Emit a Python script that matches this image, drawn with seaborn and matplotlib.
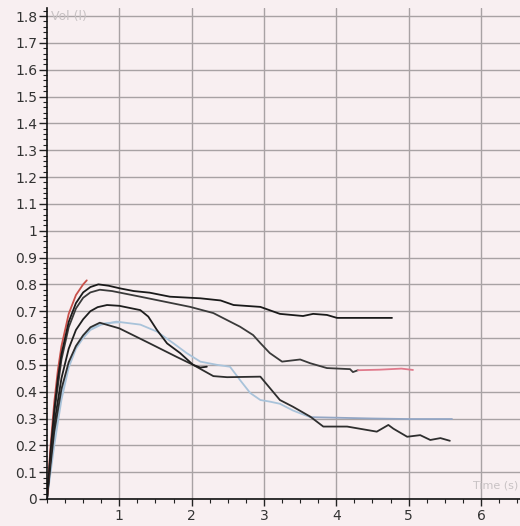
import numpy as np
import pandas as pd
import matplotlib
matplotlib.use("Agg")
import matplotlib.pyplot as plt
import seaborn as sns
from matplotlib.ticker import MultipleLocator, FixedLocator

sns.set_theme(style="white")
plt.rcParams['font.family'] = ['DejaVu Sans']

# ---- data (time in s, volume in l) ----
red_t = [0, 0.05, 0.1, 0.15, 0.2, 0.3, 0.4, 0.5, 0.55]
red_v = [0, 0.2, 0.36, 0.48, 0.57, 0.69, 0.76, 0.80, 0.815]

a_t = [0, 0.05, 0.1, 0.15, 0.2, 0.3, 0.4, 0.5, 0.6, 0.71, 0.85, 1.01, 1.2, 1.42, 1.70,
       2.12, 2.4, 2.58, 2.95, 3.22, 3.54, 3.68, 3.87, 4.01, 4.77]
a_v = [0, 0.18, 0.33, 0.45, 0.54, 0.66, 0.73, 0.77, 0.79, 0.80, 0.795, 0.785, 0.775, 0.769, 0.754,
       0.748, 0.74, 0.723, 0.716, 0.69, 0.682, 0.69, 0.686, 0.675, 0.675]

b_t = [0, 0.05, 0.1, 0.2, 0.3, 0.4, 0.5, 0.6, 0.73, 0.9, 1.29, 1.98, 2.30, 2.67, 2.85, 2.95,
       3.08, 3.25, 3.50, 3.64, 3.87, 4.19, 4.23, 4.3]
b_v = [0, 0.17, 0.32, 0.52, 0.64, 0.71, 0.75, 0.77, 0.78, 0.775, 0.754, 0.716, 0.693, 0.642, 0.611, 0.581,
       0.544, 0.512, 0.52, 0.506, 0.488, 0.484, 0.473, 0.48]

b_tail_t = [4.3, 4.6, 4.9, 5.06]
b_tail_v = [0.48, 0.482, 0.486, 0.481]

c_t = [0, 0.05, 0.1, 0.2, 0.3, 0.4, 0.5, 0.6, 0.7, 0.83, 1.0, 1.29, 1.40, 1.52, 1.66, 1.84,
       2.02, 2.12, 2.21]
c_v = [0, 0.15, 0.28, 0.45, 0.56, 0.63, 0.67, 0.70, 0.715, 0.723, 0.72, 0.704, 0.68, 0.63, 0.58, 0.544,
       0.50, 0.49, 0.493]

d_t = [0, 0.05, 0.1, 0.2, 0.3, 0.4, 0.5, 0.6, 0.73, 1.0, 1.42, 1.79, 2.02, 2.30, 2.49, 2.95,
       3.22, 3.40, 3.64, 3.82, 4.15, 4.56, 4.72, 4.79, 4.98, 5.16, 5.30, 5.44, 5.57]
d_v = [0, 0.13, 0.25, 0.41, 0.51, 0.57, 0.61, 0.64, 0.657, 0.636, 0.58, 0.53, 0.50, 0.458, 0.454, 0.456,
       0.369, 0.344, 0.307, 0.27, 0.27, 0.251, 0.276, 0.262, 0.232, 0.238, 0.22, 0.227, 0.217]

e_t = [0, 0.05, 0.1, 0.2, 0.3, 0.4, 0.5, 0.6, 0.75, 0.96, 1.29, 1.52, 1.75, 1.93, 2.12, 2.35,
       2.53, 2.67, 2.81, 2.95, 3.08, 3.22, 3.40, 3.64]
e_v = [0, 0.1, 0.2, 0.37, 0.49, 0.56, 0.60, 0.63, 0.65, 0.661, 0.65, 0.624, 0.58, 0.544, 0.512, 0.50,
       0.493, 0.443, 0.395, 0.369, 0.363, 0.355, 0.33, 0.305]

e_tail_t = [3.64, 4.0, 4.5, 5.0, 5.6]
e_tail_v = [0.305, 0.303, 0.300, 0.298, 0.298]

f_t = [0, 0.05, 0.1, 0.2, 0.3, 0.4, 0.5, 0.6, 0.7, 0.8, 0.9, 1.0]
f_v = [0, 0.12, 0.23, 0.39, 0.50, 0.57, 0.61, 0.635, 0.648, 0.655, 0.657, 0.658]

y_ticks = [0, 0.1, 0.2, 0.3, 0.4, 0.5, 0.6, 0.7, 0.8, 0.9, 1.0, 1.1, 1.2, 1.3, 1.4, 1.5, 1.6, 1.7, 1.8]
y_labels = ["0", "0.1", "0.2", "0.3", "0.4", "0.5", "0.6", "0.7", "0.8", "0.9", "1",
            "1.1", "1.2", "1.3", "1.4", "1.5", "1.6", "1.7", "1.8"]
x_ticks = [1, 2, 3, 4, 5, 6]
x_labels = ["1", "2", "3", "4", "5", "6"]

series = [
    ("F", f_t, f_v, "#b4cde0"),
    ("E", e_t, e_v, "#a9c3da"),
    ("Etail", e_tail_t, e_tail_v, "#93a6c4"),
    ("D", d_t, d_v, "#2e2e2e"),
    ("C", c_t, c_v, "#1e1e1e"),
    ("B", b_t, b_v, "#3a3a3a"),
    ("Btail", b_tail_t, b_tail_v, "#e07a8c"),
    ("red", red_t, red_v, "#c8504a"),
    ("A", a_t, a_v, "#1a1a1a"),
]

bg = "#f8eff1"
fig = plt.figure(figsize=(5.2, 5.26), dpi=100, facecolor=bg)
ax = fig.add_axes([47/520, 27/526, 473/520, 491/526])
ax.set_facecolor(bg)

for name, t, v, col in series:
    df = pd.DataFrame({"t": t, "v": v})
    sns.lineplot(data=df, x="t", y="v", ax=ax, color=col, linewidth=1.3,
                 sort=False, estimator=None)

ax.set_xlim(0, 6.54)
ax.set_ylim(0, 1.83)
ax.set_xlabel("")
ax.set_ylabel("")

ax.yaxis.set_major_locator(FixedLocator(y_ticks))
ax.set_yticklabels(y_labels)
ax.yaxis.set_minor_locator(MultipleLocator(0.02))
ax.xaxis.set_major_locator(FixedLocator(x_ticks))
ax.set_xticklabels(x_labels)
ax.xaxis.set_minor_locator(MultipleLocator(0.25))

ax.tick_params(axis="y", which="major", direction="out", length=6, width=1, color="#222222",
               labelsize=10, labelcolor="#333333", pad=1, left=True)
ax.tick_params(axis="y", which="minor", direction="out", length=3, width=0.8, color="#222222", left=True)
ax.tick_params(axis="x", which="major", direction="out", length=5, width=1, color="#222222",
               labelsize=10, labelcolor="#333333", pad=2, bottom=True)
ax.tick_params(axis="x", which="minor", direction="out", length=3, width=0.8, color="#222222", bottom=True)

ax.grid(True, which="major", color="#a8a2a4", linewidth=1.0)
ax.set_axisbelow(True)

for s in ["top", "right"]:
    ax.spines[s].set_visible(False)
for s in ["left", "bottom"]:
    ax.spines[s].set_color("#111111")
    ax.spines[s].set_linewidth(1.2)

ax.text(0.05, 1.8, "Vol (l)", color="#c8c2c4", fontsize=9, va="center", ha="left")
ax.text(6.52, 0.05, "Time (s)", color="#c8c2c4", fontsize=8, va="center", ha="right")

fig.savefig("out.png", dpi=100, facecolor=bg)
